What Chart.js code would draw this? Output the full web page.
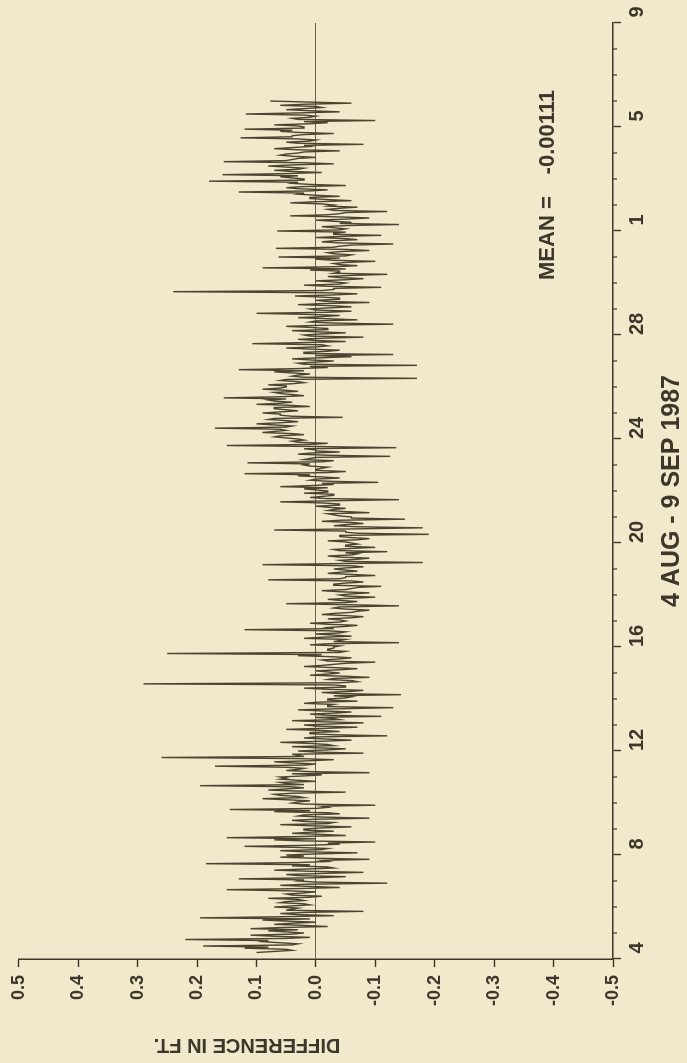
<!DOCTYPE html>
<html>
<head>
<meta charset="utf-8">
<script src="https://cdn.jsdelivr.net/npm/chart.js@4/dist/chart.umd.min.js"></script>
<style>
  html, body { margin: 0; padding: 0; background: #f0e9cb; overflow: hidden; }
  /* the chart is drawn landscape and turned a quarter turn counter-clockwise */
  #wrap {
    position: absolute; left: 0; top: 0;
    width: 1063px; height: 687px;
    transform-origin: 0 0;
    transform: translate(0, 1063px) rotate(-90deg);
  }
</style>
</head>
<body>
<div id="wrap"><canvas id="chart" width="1063" height="687"></canvas></div>
<script>
// Difference in feet, hourly, first sample 6h after 4 Aug 00:00
const startDay = 0.25;
const samplesPerDay = 24;
const diffFt = [
  // 4 Aug
  0.10, 0.07, 0.04, 0.05, 0.12, 0.08, 0.19, 0.04, 0.03, 0.06, 0.09, 0.08, 0.22, 0.05, 0.01, 0.07, 0.11, 0.04,
  // 5 Aug
  0.02, 0.05, 0.08, 0.03, 0.11, 0.06, -0.02, 0.02, 0.07, 0.04, 0.00, 0.05, 0.09, 0.01, 0.195, 0.06, -0.03, 0.03, 0.06, 0.02, -0.08, 0.05, 0.04, 0.03,
  0.07, 0.04, 0.01, 0.02, 0.06, 0.05, 0.02, 0.03, 0.08, 0.01, -0.01, 0.04, 0.05, 0.02, 0.00, 0.05, 0.15, 0.03, -0.04, 0.01, 0.06, 0.02, -0.12, 0.00,
  0.03, 0.02, 0.13, 0.00, -0.05, 0.03, 0.05, -0.01, -0.08, 0.01, 0.07, 0.02, -0.03, -0.02, 0.04, 0.01, 0.185, 0.03, -0.02, -0.01, -0.09, 0.00, 0.06, 0.02,
  0.05, 0.00, -0.07, 0.02, 0.06, -0.01, -0.02, 0.03, 0.12, 0.01, -0.04, -0.02, -0.10, 0.02, 0.07, 0.00, 0.15, 0.03, -0.05, -0.01, 0.04, 0.01, -0.03, 0.02,
  0.02, -0.01, -0.06, 0.01, 0.06, -0.02, -0.03, 0.02, 0.04, 0.00, -0.09, -0.01, 0.03, 0.02, -0.04, -0.02, 0.07, 0.01, 0.145, 0.00, -0.02, -0.01, -0.10, 0.02,
  // 10 Aug
  0.04, 0.03, 0.01, 0.05, 0.09, 0.02, 0.03, 0.06, 0.07, 0.04, -0.05, 0.03, 0.08, 0.05, 0.02, 0.04, 0.195, 0.02, 0.05, 0.06, 0.00, 0.03, 0.06, 0.05,
  0.06, 0.02, -0.01, 0.04, -0.09, 0.01, 0.05, 0.03, 0.02, 0.05, 0.17, 0.02, 0.00, 0.04, 0.07, 0.01, -0.03, 0.03, 0.26, 0.02, 0.03, 0.04, -0.08, 0.00,
  0.03, -0.02, -0.05, 0.00, 0.04, -0.03, -0.02, 0.01, 0.06, -0.01, -0.06, -0.02, 0.02, 0.00, -0.12, -0.03, 0.01, 0.01, -0.04, -0.01, 0.05, -0.02, -0.07, 0.00,
  0.02, -0.03, -0.08, -0.01, 0.04, -0.04, -0.03, 0.00, -0.11, -0.02, 0.01, -0.03, -0.06, -0.01, 0.03, -0.04, -0.13, -0.02, -0.02, -0.03, 0.02, 0.00, -0.07, -0.02,
  -0.02, -0.05, -0.06, -0.03, -0.143, -0.04, -0.01, -0.06, -0.08, -0.02, 0.02, -0.05, -0.05, -0.03, 0.29, -0.04, -0.07, -0.06, -0.02, -0.03, -0.09, -0.05, 0.01, -0.02,
  // 15 Aug
  -0.04, -0.02, 0.00, -0.04, -0.07, -0.03, 0.02, -0.01, -0.03, -0.05, -0.10, -0.02, -0.01, -0.04, -0.06, -0.03, 0.03, -0.01, 0.25, -0.04, -0.05, -0.02, -0.02, -0.03,
  -0.03, -0.04, 0.01, -0.02, -0.14, -0.03, -0.04, -0.05, 0.02, -0.01, -0.06, -0.03, 0.00, -0.04, -0.05, -0.02, 0.12, -0.03, -0.02, -0.05, -0.07, -0.02, 0.01, -0.04,
  -0.05, -0.04, -0.02, -0.06, -0.08, -0.05, -0.01, -0.03, -0.06, -0.07, -0.09, -0.05, -0.03, -0.04, -0.14, -0.06, 0.05, -0.05, -0.07, -0.04, -0.02, -0.06, -0.10, -0.05,
  -0.04, -0.06, -0.09, -0.04, -0.01, -0.05, -0.06, -0.07, -0.11, -0.03, -0.03, -0.05, -0.08, -0.06, 0.08, -0.04, -0.05, -0.05, -0.10, -0.06, -0.02, -0.04, -0.07, -0.05,
  -0.03, -0.05, -0.08, -0.06, 0.09, -0.04, -0.18, -0.05, -0.04, -0.07, -0.09, -0.04, -0.02, -0.06, -0.07, -0.05, -0.12, -0.04, -0.03, -0.06, -0.10, -0.05, -0.05, -0.07,
  // 20 Aug
  -0.06, -0.05, -0.02, -0.07, -0.09, -0.06, -0.04, -0.04, -0.19, -0.07, -0.05, -0.05, 0.07, -0.06, -0.18, -0.07, -0.03, -0.05, -0.08, -0.06, -0.01, -0.04, -0.15, -0.06,
  -0.06, -0.04, -0.03, -0.02, -0.09, -0.05, -0.02, -0.03, -0.05, -0.02, 0.00, -0.04, -0.04, -0.01, 0.06, -0.03, -0.14, -0.02, 0.01, -0.01, -0.03, -0.03, 0.02, -0.02,
  -0.02, 0.00, 0.02, -0.02, 0.06, 0.01, -0.03, -0.01, -0.105, -0.02, 0.01, 0.00, -0.04, -0.01, 0.03, 0.01, 0.12, -0.02, -0.05, 0.00, 0.00, -0.01, -0.02, 0.01,
  0.02, 0.01, 0.115, -0.01, -0.03, 0.02, 0.01, 0.00, -0.125, -0.02, 0.03, 0.01, -0.04, 0.00, 0.00, 0.02, -0.135, -0.01, 0.15, 0.01, -0.02, 0.03, 0.04, 0.02,
  0.03, 0.05, 0.07, 0.06, 0.02, 0.04, 0.09, 0.07, 0.05, 0.06, 0.17, 0.05, 0.04, 0.07, 0.10, 0.06, 0.03, 0.05, 0.08, 0.07, -0.045, 0.04, 0.06, 0.06,
  // 25 Aug
  0.09, 0.06, 0.03, 0.05, 0.07, 0.07, 0.01, 0.04, 0.10, 0.06, 0.04, 0.07, 0.08, 0.05, 0.155, 0.06, 0.02, 0.04, 0.06, 0.07, 0.03, 0.05, 0.09, 0.06,
  0.05, 0.05, 0.08, 0.04, 0.02, 0.03, 0.06, 0.05, -0.17, 0.02, 0.04, 0.03, 0.01, 0.04, 0.07, 0.02, 0.13, 0.03, -0.02, 0.01, -0.17, 0.02, 0.03, 0.00,
  -0.03, 0.01, 0.04, -0.01, -0.06, 0.00, -0.13, 0.02, 0.02, -0.02, -0.04, 0.01, 0.05, 0.00, -0.02, -0.01, 0.107, 0.02, -0.05, 0.00, 0.03, -0.01, -0.08, 0.01,
  0.02, -0.01, -0.05, 0.00, 0.04, -0.02, -0.02, 0.01, 0.05, -0.01, -0.13, -0.03, 0.01, 0.00, -0.07, -0.02, 0.03, -0.01, -0.04, 0.01, 0.10, -0.02, -0.06, 0.00,
  0.01, -0.02, -0.06, -0.03, 0.03, -0.01, -0.09, -0.02, 0.00, -0.04, -0.04, -0.01, 0.035, -0.03, -0.07, -0.02, 0.24, -0.01, -0.03, -0.03, -0.11, -0.02, 0.02, -0.04,
  // 30 Aug
  -0.05, -0.03, 0.00, -0.05, -0.08, -0.04, -0.02, -0.06, -0.12, -0.03, -0.04, -0.04, 0.01, -0.05, 0.09, -0.03, -0.07, -0.04, -0.03, -0.05, -0.10, -0.03, 0.00, -0.04,
  0.063, -0.05, -0.06, -0.03, -0.02, -0.04, -0.09, -0.05, 0.067, -0.03, -0.04, -0.06, -0.13, -0.04, -0.01, -0.03, -0.07, -0.05, 0.00, -0.04, -0.11, -0.03, -0.03, -0.05,
  0.065, -0.04, -0.05, -0.03, -0.01, -0.05, -0.14, -0.04, -0.06, -0.03, 0.00, -0.05, -0.09, -0.04, 0.043, -0.02, -0.04, -0.05, -0.12, -0.03, -0.02, -0.04, -0.07, -0.02,
  -0.03, -0.01, 0.043, 0.00, -0.06, -0.02, 0.01, 0.01, -0.04, 0.00, 0.03, 0.02, 0.13, 0.01, -0.02, 0.03, 0.05, 0.02, -0.05, 0.01, 0.04, 0.03, 0.18, 0.02,
  0.02, 0.04, 0.06, 0.03, 0.157, 0.05, -0.01, 0.04, 0.07, 0.03, 0.02, 0.05, 0.08, 0.04, -0.03, 0.02, 0.155, 0.05, 0.04, 0.03, 0.00, 0.04, 0.06, 0.05,
  // 4 Sep
  0.03, 0.02, -0.04, 0.03, 0.07, 0.04, 0.01, 0.02, -0.08, 0.03, 0.05, 0.01, 0.00, 0.03, 0.127, 0.04, 0.04, 0.02, -0.03, 0.03, 0.06, 0.04, 0.12, 0.02,
  0.02, 0.03, 0.07, 0.01, -0.02, 0.02, -0.10, 0.03, 0.04, 0.01, 0.00, 0.02, 0.118, 0.03, -0.04, 0.01, 0.05, 0.02, -0.01, 0.00, 0.06, 0.02, -0.06, 0.01,
  0.077
];

// x axis: days after 4 Aug, labelled with day of month
const dateTickDays = [0, 4, 8, 12, 16, 20, 24, 28, 32, 36];
const dateTickLabels = ['4', '8', '12', '16', '20', '24', '28', '1', '5', '9'];
const lastDay = 36;

// y axis
const diffTicks = [-0.5, -0.4, -0.3, -0.2, -0.1, 0, 0.1, 0.2, 0.3, 0.4, 0.5];
const diffTickLabels = ['-0.5', '-0.4', '-0.3', '-0.2', '-0.1', '0.0', '0.1', '0.2', '0.3', '0.4', '0.5'];

const xTitle = '4 AUG - 9 SEP 1987';
const yTitle = 'DIFFERENCE IN FT.';
const meanLabel = 'MEAN =';
const meanValue = '-0.00111';

const ink = '#3c372a';
const fontFamily = "'Liberation Sans Narrow', 'Liberation Sans', Arial, sans-serif";

const points = diffFt.map((v, i) => ({ x: startDay + i / samplesPerDay, y: v }));

// short day ticks between the labelled ones, plus the free text
const extrasPlugin = {
  id: 'extras',
  afterDraw(chart) {
    const ctx = chart.ctx;
    const xs = chart.scales.x;
    const area = chart.chartArea;
    ctx.save();
    ctx.strokeStyle = ink;
    ctx.lineWidth = 1.2;
    for (let d = 0; d <= lastDay; d++) {
      if (dateTickDays.includes(d)) continue;
      const px = xs.getPixelForValue(d);
      ctx.beginPath();
      ctx.moveTo(px, area.bottom);
      ctx.lineTo(px, area.bottom + 4);
      ctx.stroke();
    }

    ctx.fillStyle = ink;
    ctx.font = 'bold 20px ' + fontFamily;
    ctx.textBaseline = 'middle';

    // y title sits off the middle of the axis, as in the original
    ctx.save();
    ctx.translate(18, 247);
    ctx.rotate(-Math.PI / 2);
    ctx.textAlign = 'center';
    ctx.fillText(yTitle, 0, 0);
    ctx.restore();

    // mean annotation, lower right inside the plot
    ctx.font = 'bold 22px ' + fontFamily;
    ctx.textAlign = 'left';
    ctx.fillText(meanLabel, 783, 548);
    ctx.textAlign = 'right';
    ctx.fillText(meanValue, 973, 548);
    ctx.restore();
  }
};

new Chart(document.getElementById('chart'), {
  type: 'line',
  data: {
    datasets: [{
      data: points,
      borderColor: '#4a4431',
      borderWidth: 1.4,
      pointRadius: 0,
      tension: 0,
      fill: false
    }]
  },
  options: {
    responsive: false,
    animation: false,
    devicePixelRatio: 1,
    layout: { padding: { left: 0, right: 23, top: 14, bottom: 0 } },
    plugins: { legend: { display: false }, tooltip: { enabled: false } },
    scales: {
      x: {
        type: 'linear',
        position: 'bottom',
        min: 0,
        max: lastDay,
        afterBuildTicks: s => { s.ticks = dateTickDays.map(v => ({ value: v })); },
        afterFit: s => { s.height = 74; },
        ticks: {
          callback: (v, i) => dateTickLabels[i],
          color: ink,
          font: { family: fontFamily, size: 20, weight: 'bold' },
          labelOffset: 11,
          padding: 4,
          maxRotation: 0,
          autoSkip: false
        },
        grid: {
          drawOnChartArea: false,
          tickLength: 8,
          tickColor: ink,
          tickWidth: 1.4
        },
        border: { display: true, color: ink, width: 1.5 },
        title: {
          display: true,
          text: xTitle,
          color: ink,
          font: { family: fontFamily, size: 25, weight: 'bold' },
          padding: { top: 2, bottom: 0 }
        }
      },
      y: {
        min: -0.5,
        max: 0.5,
        afterBuildTicks: s => { s.ticks = diffTicks.map(v => ({ value: v })); },
        afterFit: s => { s.width = 104; },
        ticks: {
          callback: (v, i) => diffTickLabels[i],
          color: ink,
          font: { family: fontFamily, size: 18, weight: 'bold' },
          padding: 8
        },
        grid: {
          color: ctx => (ctx.tick && ctx.tick.value === 0) ? '#6a6450' : 'rgba(0,0,0,0)',
          lineWidth: 1,
          tickLength: 8,
          tickColor: ink,
          tickWidth: 1.4
        },
        border: { display: true, color: ink, width: 1.5 }
      }
    }
  },
  plugins: [extrasPlugin]
});
</script>
</body>
</html>
